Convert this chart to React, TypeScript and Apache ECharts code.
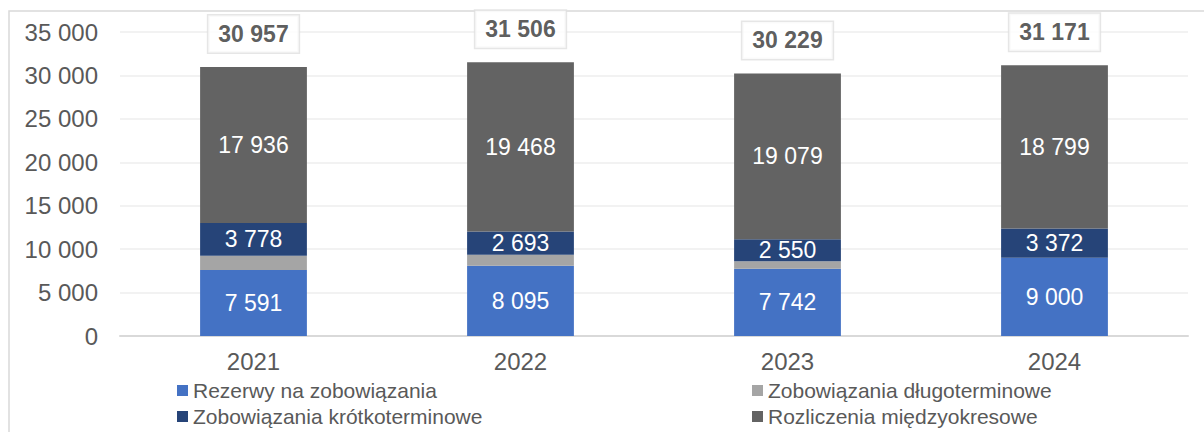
import React, { useEffect, useRef } from "react";
import * as echarts from "echarts";

const years = ["2021", "2022", "2023", "2024"];
const rezerwy = [7591, 8095, 7742, 9000];
const dlugoterminowe = [1652, 1250, 858, 0];
const krotkoterminowe = [3778, 2693, 2550, 3372];
const rozliczenia = [17936, 19468, 19079, 18799];
const totals = [30957, 31506, 30229, 31171];

const names = [
  "Rezerwy na zobowiązania",
  "Zobowiązania długoterminowe",
  "Zobowiązania krótkoterminowe",
  "Rozliczenia międzyokresowe",
];
const colors = ["#4472C4", "#A5A5A5", "#264478", "#636363"];
const legendPos = [
  { left: 172, top: 375 },
  { left: 747, top: 375 },
  { left: 172, top: 401 },
  { left: 747, top: 401 },
];

const FONT = "'Liberation Sans', Arial, sans-serif";
const fmt = (v: number) => String(v).replace(/\B(?=(\d{3})+(?!\d))/g, " ");

export default function App() {
  const ref = useRef<HTMLDivElement>(null);
  useEffect(() => {
    if (!ref.current) return;
    const chart = echarts.init(ref.current, undefined, { renderer: "svg" });
    const seriesData = [rezerwy, dlugoterminowe, krotkoterminowe, rozliczenia];
    const bars = seriesData.map((d, i) => ({
      name: names[i],
      type: "bar",
      stack: "total",
      barWidth: "40%",
      data: d,
      itemStyle: { color: colors[i] },
      label: {
        show: i !== 1,
        position: "inside",
        color: "#ffffff",
        fontSize: 23,
        fontFamily: FONT,
        formatter: (p: any) => fmt(p.value),
      },
    }));
    chart.setOption({
      animation: false,
      textStyle: { fontFamily: FONT },
      grid: { left: 120, right: 16, top: 32, bottom: 96 },
      graphic: [
        {
          type: "rect",
          shape: { x: 9, y: 11, width: 1400, height: 600 },
          style: { fill: "none", stroke: "#d9d9d9", lineWidth: 1.5 },
          silent: true,
        },
      ],
      xAxis: {
        type: "category",
        data: years,
        axisTick: { show: false },
        axisLine: { lineStyle: { color: "#d9d9d9", width: 2 } },
        axisLabel: { color: "#595959", fontSize: 24, fontFamily: FONT, margin: 13 },
      },
      yAxis: {
        type: "value",
        min: 0,
        max: 35000,
        interval: 5000,
        axisLine: { show: false },
        axisTick: { show: false },
        splitLine: { lineStyle: { color: "#eeeeee", width: 1.5 } },
        axisLabel: {
          color: "#595959",
          fontSize: 24,
          fontFamily: FONT,
          margin: 22,
          formatter: (v: number) => fmt(v),
        },
      },
      legend: names.map((n, i) => ({
        left: legendPos[i].left,
        top: legendPos[i].top,
        itemWidth: 11,
        itemHeight: 11,
        icon: "rect",
        data: [n],
        textStyle: { color: "#595959", fontSize: 21, fontFamily: FONT },
      })),
      series: [
        ...bars,
        {
          name: "Suma",
          type: "scatter",
          data: totals,
          symbolSize: 1,
          itemStyle: { color: "rgba(0,0,0,0)" },
          label: {
            show: true,
            position: "top",
            distance: 14,
            color: "#333333",
            fontSize: 23,
            fontWeight: "bold",
            fontFamily: FONT,
            lineHeight: 23,
            backgroundColor: "#ffffff",
            borderColor: "#e0e0e0",
            borderWidth: 1.5,
            padding: [7, 10, 7, 10],
            formatter: (p: any) => fmt(p.value),
          },
        },
      ],
    });
    return () => chart.dispose();
  }, []);
  return (
    <div
      ref={ref}
      style={{ position: "absolute", left: 0, top: 0, width: 1204, height: 432 }}
    />
  );
}
